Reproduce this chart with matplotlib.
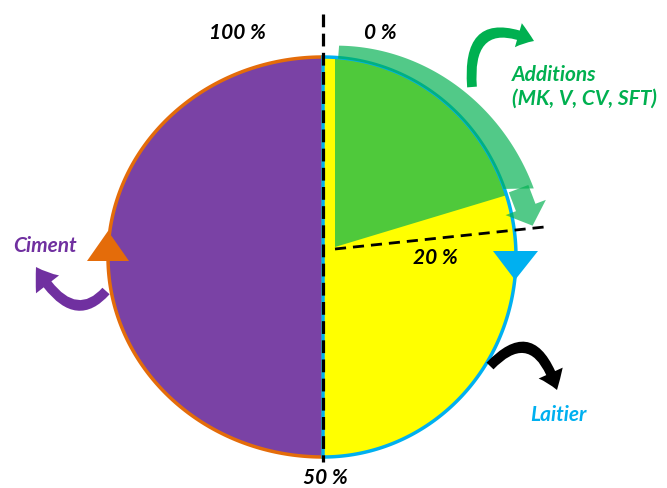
import numpy as np
import matplotlib.pyplot as plt
from matplotlib.patches import Polygon, FancyArrowPatch
from matplotlib.path import Path

# binder split, in % of the full circle, clockwise from the top
parts = ['Additions', 'Laitier', 'Ciment']
shares = [20, 30, 50]
labels = ['Additions\n(MK, V, CV, SFT)', 'Laitier', 'Ciment']
fill_colors = ['#4FC93B', '#FFFF00', '#7A42A5']
edge_colors = ['#00B0F0', '#00B0F0', '#E46C0A']
text_colors = ['#00B050', '#00B0F0', '#7030A0']

# percentage marks written around the circle
mark_labels = ['0 %', '20 %', '50 %', '100 %']

plt.rcParams['font.family'] = ['Lato', 'DejaVu Sans']

W, H = 667, 489
fig = plt.figure(figsize=(W / 100, H / 100), dpi=100)
ax = fig.add_axes([0, 0, 1, 1])
ax.set_xlim(0, W)
ax.set_ylim(H, 0)
ax.axis('off')

# hand drawn look: right half a bit narrower than left half
cx, cy = 323, 258
ry = 200
rx_right, rx_left = 193, 215


def ell(t, rx, ry, off=0.0):
    t = np.radians(t)
    return np.column_stack([cx + (rx + off) * np.sin(t), cy - (ry + off) * np.cos(t)])


# cumulative angles of each part
angles = np.cumsum([0] + shares) * 3.6   # 0, 72, 180, 360

# ciment (left half)
t = np.linspace(angles[2], angles[3], 200)
ax.add_patch(Polygon(ell(t, rx_left, ry), closed=True, facecolor=fill_colors[2],
                     edgecolor=edge_colors[2], lw=2.5, zorder=1))

# laitier (right half) then additions wedge on top
t = np.linspace(0, 180, 200)
right_half = ell(t, rx_right, ry)
ax.add_patch(Polygon(right_half, closed=True, facecolor=fill_colors[1], edgecolor='none', zorder=2))

apex = np.array([cx + 12, cy - 10])
t0 = np.degrees(np.arcsin(12 / rx_right))
t = np.linspace(t0, angles[1], 100)
wedge = np.vstack([apex, ell(t, rx_right, ry)])
ax.add_patch(Polygon(wedge, closed=True, facecolor=fill_colors[0], edgecolor='none', zorder=3))
ax.add_patch(Polygon(right_half, closed=True, fill=False, edgecolor=edge_colors[1], lw=2.5, zorder=4))

# translucent curved band showing the additions share
band_col = '#00B050'
ti = np.linspace(4.5, 70, 100)
to = np.linspace(4.5, 72.5, 100)
off = np.linspace(12, 28, 100)
inner = ell(ti, rx_right, ry, -1)
outer = np.column_stack([cx + (rx_right + off) * np.sin(np.radians(to)),
                         cy - (ry + off) * np.cos(np.radians(to))])
ax.add_patch(Polygon(np.vstack([inner, outer[::-1]]), closed=True, facecolor=band_col,
                     alpha=0.68, edgecolor='none', zorder=5))
end_mid = (inner[-1] + outer[-1]) / 2
ax.add_patch(FancyArrowPatch(end_mid, end_mid + np.array([14, 37]),
                             arrowstyle='simple,tail_width=15,head_width=31,head_length=14',
                             mutation_scale=1, shrinkA=0, shrinkB=0, color=band_col,
                             alpha=0.68, lw=0, zorder=5))

# dashed guide lines
ax.plot([cx, cx], [15, 463], color='black', lw=2.3, dashes=(4, 2), zorder=6)
a = np.radians(angles[1] + 12)
ax.plot([apex[0], apex[0] + 210 * np.sin(a)], [apex[1] + 2, apex[1] + 2 - 210 * np.cos(a)],
        color='black', lw=2.0, dashes=(4, 2.5), zorder=6)

# direction triangles on the outline
lx, rxp = cx - rx_left, cx + rx_right
ax.add_patch(Polygon([[lx - 21, cy + 4], [lx + 21, cy + 4], [lx, cy - 26]], closed=True,
                     facecolor=edge_colors[2], edgecolor='none', zorder=7))
ax.add_patch(Polygon([[rxp - 23, cy - 6], [rxp + 22, cy - 6], [rxp - 1, cy + 23]], closed=True,
                     facecolor=edge_colors[1], edgecolor='none', zorder=7))

# curved arrows next to the labels (quadratic curves)
curves = [
    ([(472, 88), (466, 12), (534, 42)], text_colors[0], 7, 18, 12),
    ([(106, 292), (72, 330), (36, 268)], text_colors[2], 7, 21, 15),
    ([(490, 367), (535, 320), (557, 391)], 'black', 7, 19, 13),
]
for pts, col, tw, hw, hl in curves:
    path = Path(pts, [Path.MOVETO, Path.CURVE3, Path.CURVE3])
    ax.add_patch(FancyArrowPatch(path=path,
                                 arrowstyle=f'simple,tail_width={tw},head_width={hw},head_length={hl}',
                                 mutation_scale=1, color=col, lw=0, zorder=8))

# texts
font = dict(fontsize=15, fontweight='bold', fontstyle='italic')
ax.text(380, 33, mark_labels[0], ha='center', va='center', color='black', **font)
ax.text(435, 258, mark_labels[1], ha='center', va='center', color='black', **font)
ax.text(325, 478, mark_labels[2], ha='center', va='center', color='black', **font)
ax.text(237, 33, mark_labels[3], ha='center', va='center', color='black', **font)

ax.text(512, 87, labels[0], ha='left', va='center', color=text_colors[0],
        linespacing=1.2, **font)
ax.text(558, 415, labels[1], ha='center', va='center', color=text_colors[1], **font)
ax.text(45, 246, labels[2], ha='center', va='center', color=text_colors[2], **font)

fig.savefig('out.png', dpi=100)
